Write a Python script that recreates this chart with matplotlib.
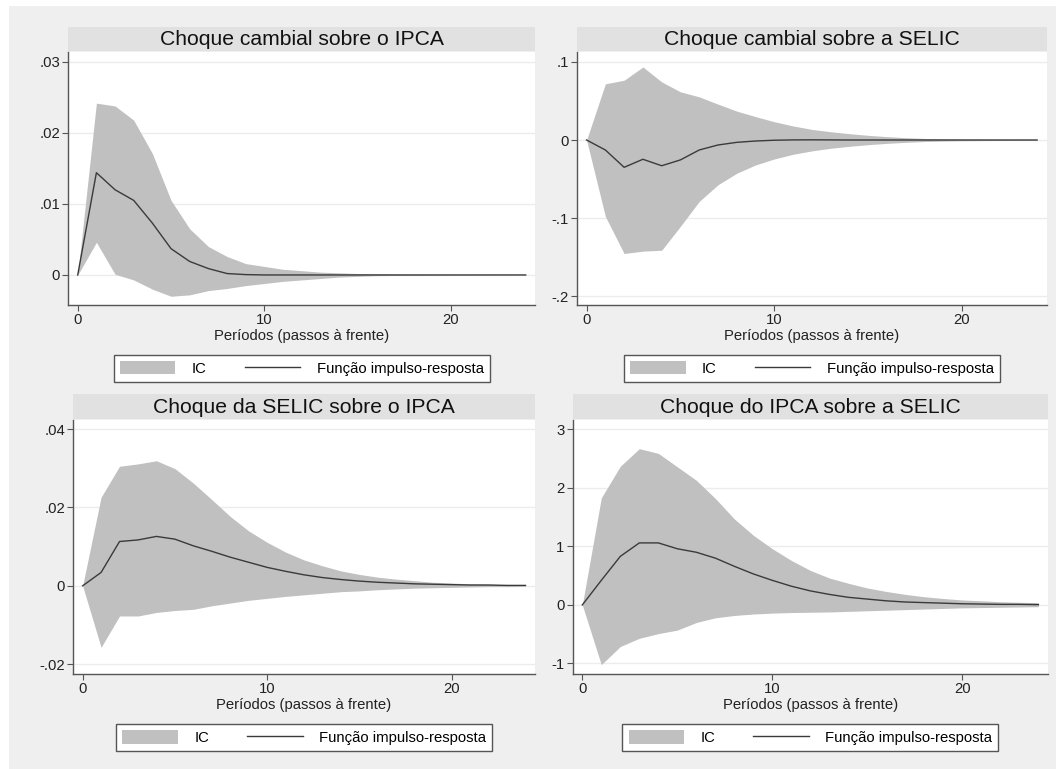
import matplotlib
matplotlib.use("Agg")
import matplotlib.pyplot as plt
from matplotlib.patches import Rectangle
import numpy as np

plt.rcParams['font.family'] = ['Liberation Sans', 'DejaVu Sans']

# horizonte (passos à frente)
periodos = list(range(25))

# Choque cambial sobre o IPCA
irf_cambio_ipca = [0, .0144, .0120, .0105, .0073, .0037, .0019, .0009, .0002, .00005,
                   0, 0, 0, 0, 0, 0, 0, 0, 0, 0, 0, 0, 0, 0, 0]
sup_cambio_ipca = [0, .0242, .0238, .0218, .0171, .0105, .0065, .0040, .0026, .0016,
                   .0012, .0008, .0006, .0004, .0003, .0002, .00015, .0001, .00007, .00005,
                   .00003, .00002, .00001, .00001, 0]
inf_cambio_ipca = [0, .0046, .0001, -.0007, -.0020, -.0030, -.0028, -.0022, -.0019, -.0015,
                   -.0012, -.0009, -.0007, -.0005, -.0003, -.0002, -.0001, -.00007, -.00005, -.00003,
                   -.00002, -.00001, -.00001, 0, 0]

# Choque cambial sobre a SELIC
irf_cambio_selic = [0, -.0128, -.035, -.0247, -.033, -.0255, -.0128, -.0064, -.003, -.0013,
                    -.0003, .0001, .0002, .0001, 0, 0, 0, 0, 0, 0, 0, 0, 0, 0, 0]
sup_cambio_selic = [0, .072, .0766, .0936, .0745, .0617, .0553, .046, .037, .030,
                    .0234, .018, .0136, .0106, .0081, .006, .0043, .003, .002, .0014,
                    .001, .0008, .0006, .0004, .0003]
inf_cambio_selic = [0, -.098, -.1455, -.1425, -.1413, -.1106, -.0787, -.0574, -.0426, -.032,
                    -.0243, -.0183, -.014, -.0106, -.0081, -.006, -.0043, -.003, -.002, -.0014,
                    -.001, -.0008, -.0006, -.0004, -.0003]

# Choque da SELIC sobre o IPCA
irf_selic_ipca = [0, .0034, .0113, .0117, .0126, .0119, .0102, .0088, .0073, .0060,
                  .0047, .0037, .0028, .0021, .0016, .0012, .0009, .0007, .0005, .0004,
                  .0003, .0002, .0002, .0001, .0001]
sup_selic_ipca = [0, .0226, .0305, .0311, .0319, .0299, .0262, .0220, .0177, .0140,
                  .0111, .0086, .0066, .0051, .0038, .0029, .0022, .0017, .0013, .0009,
                  .0007, .0005, .0004, .0003, .0003]
inf_selic_ipca = [0, -.0157, -.0077, -.0077, -.0068, -.0063, -.0060, -.0051, -.0044, -.0037,
                  -.0032, -.0027, -.0023, -.0019, -.0015, -.0013, -.0010, -.0008, -.0006, -.0005,
                  -.0004, -.0003, -.0002, -.0002, -.0001]

# Choque do IPCA sobre a SELIC
irf_ipca_selic = [0, .42, .83, 1.06, 1.06, .96, .90, .80, .66, .53,
                  .42, .32, .24, .18, .13, .10, .07, .05, .04, .03,
                  .02, .015, .01, .01, .005]
sup_ipca_selic = [0, 1.83, 2.37, 2.67, 2.59, 2.36, 2.13, 1.82, 1.47, 1.19,
                  .96, .76, .59, .46, .37, .29, .23, .18, .14, .11,
                  .085, .07, .055, .045, .04]
inf_ipca_selic = [0, -1.02, -.71, -.57, -.49, -.43, -.30, -.22, -.18, -.155,
                  -.14, -.13, -.125, -.12, -.11, -.10, -.09, -.08, -.07, -.06,
                  -.05, -.045, -.04, -.035, -.03]

titulos = ['Choque cambial sobre o IPCA', 'Choque cambial sobre a SELIC',
           'Choque da SELIC sobre o IPCA', 'Choque do IPCA sobre a SELIC']
yticks = [[0, .01, .02, .03], [-.2, -.1, 0, .1], [-.02, 0, .02, .04], [-1, 0, 1, 2, 3]]
ylabels = [['0', '.01', '.02', '.03'], ['-.2', '-.1', '0', '.1'],
           ['-.02', '0', '.02', '.04'], ['-1', '0', '1', '2', '3']]
xticks = [0, 10, 20]

series = [(irf_cambio_ipca, sup_cambio_ipca, inf_cambio_ipca),
          (irf_cambio_selic, sup_cambio_selic, inf_cambio_selic),
          (irf_selic_ipca, sup_selic_ipca, inf_selic_ipca),
          (irf_ipca_selic, sup_ipca_selic, inf_ipca_selic)]
ylims = [(-0.00423, 0.0314), (-0.2115, 0.1128), (-0.0225, 0.0423), (-1.18, 3.16)]

W, H = 1056, 769
# caixas dos paineis em pixels: esquerda, topo, direita, base
caixas = [(68.4, 52, 535, 305), (577.2, 52, 1046.5, 305),
          (73.4, 420, 534.7, 674), (572.8, 420, 1047.9, 674)]
faixas = [26.5, 26.5, 394, 394]

cor_fundo = '#efefef'
cor_faixa = '#e1e1e1'
cor_ic = '#c0c0c0'
cor_linha = '#3a3a3a'
cor_eixo = '#555555'


def px(l, t, r, b):
    return [l / W, 1 - b / H, (r - l) / W, (b - t) / H]


fig = plt.figure(figsize=(W / 100, H / 100), dpi=100, facecolor='white')
fig.patches.append(Rectangle((9 / W, 0), 1 - 9 / W, 1 - 6 / H, transform=fig.transFigure,
                             facecolor=cor_fundo, edgecolor='none', zorder=-10))

for i in range(4):
    l, t, r, b = caixas[i]
    irf, sup, inf = series[i]

    # faixa do título
    axt = fig.add_axes(px(l, faixas[i], r, t - 1))
    axt.set_facecolor(cor_faixa)
    axt.set_xticks([])
    axt.set_yticks([])
    for s in axt.spines.values():
        s.set_visible(False)
    axt.text(0.5, 0.45, titulos[i], ha='center', va='center', fontsize=15.2,
             color='#111111', transform=axt.transAxes)

    ax = fig.add_axes(px(l, t, r, b))
    ax.set_facecolor('white')
    ic = ax.fill_between(periodos, inf, sup, color=cor_ic, linewidth=0, label='IC')
    ln, = ax.plot(periodos, irf, color=cor_linha, linewidth=1.0, label='Função impulso-resposta')

    ax.set_xlim(-0.5, 24.5)
    ax.set_ylim(*ylims[i])
    ax.set_xticks(xticks)
    ax.set_xticklabels([str(v) for v in xticks])
    ax.set_yticks(yticks[i])
    ax.set_yticklabels(ylabels[i])
    ax.yaxis.grid(True, color='#ececec', linewidth=1.0)
    ax.set_axisbelow(True)
    ax.tick_params(axis='both', direction='out', length=4, width=0.8, color=cor_eixo,
                   labelsize=10.7, labelcolor='#222222', pad=2)
    for s in ['top', 'right']:
        ax.spines[s].set_visible(False)
    for s in ['left', 'bottom']:
        ax.spines[s].set_color(cor_eixo)
        ax.spines[s].set_linewidth(1.0)
    ax.set_xlabel('Períodos (passos à frente)', fontsize=10.7, color='#222222', labelpad=1)

    leg = ax.legend(handles=[ic, ln], loc='upper center', bbox_to_anchor=(0.5, -0.197),
                    ncol=2, fontsize=10.7, frameon=True, fancybox=False,
                    edgecolor='#555555', framealpha=1, handlelength=3.74, handleheight=1.0,
                    handletextpad=1.1, columnspacing=2.55, borderpad=0.42,
                    borderaxespad=0)
    leg.get_frame().set_linewidth(1.0)

fig.savefig('out.png', dpi=100, facecolor=fig.get_facecolor())
